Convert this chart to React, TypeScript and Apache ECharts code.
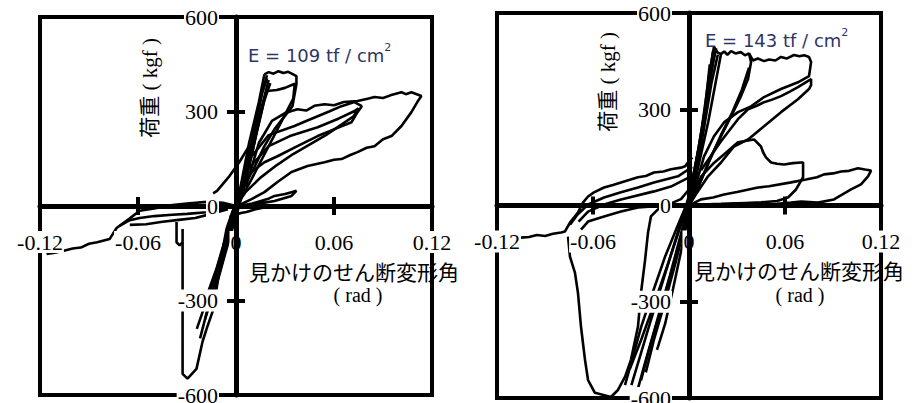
import React, { useEffect, useRef } from "react";
import * as echarts from "echarts";

// ---------- axis ticks / labels ----------
const xTicks = [-0.12, -0.06, 0, 0.06, 0.12];
const yTicks = [-600, -300, 0, 300, 600];
const xTitle = "見かけのせん断変形角";
const xUnit = "( rad )";
const yTitle = "荷重 ( kgf )";
const leftNote = "E = 109 tf / cm";
const rightNote = "E = 143 tf / cm";

// ---------- left specimen (E = 109) : [rad, kgf] ----------
const L_steep1 = [[-0.021, -330], [-0.012, -200], [-0.004, -60], [0.002, 40], [0.008, 200], [0.014, 330], [0.0174, 418]];
const L_steep2 = [[-0.018, -300], [-0.009, -160], [0, -10], [0.006, 100], [0.012, 250], [0.016, 360], [0.019, 405]];
const L_steep3 = [[-0.014, -290], [-0.006, -140], [0.003, 20], [0.01, 170], [0.015, 300], [0.02, 400]];
const L_steep4 = [[-0.024, -390], [-0.014, -240], [-0.005, -80], [0.004, 50], [0.011, 200], [0.017, 330], [0.021, 390]];
const L_steep5 = [[-0.019, -360], [-0.01, -210], [-0.002, -50], [0.006, 80], [0.013, 240], [0.018, 350]];
const L_steep6 = [[-0.022, -420], [-0.016, -300], [-0.009, -170], [-0.003, -40], [0.003, 60], [0.009, 190], [0.015, 340], [0.019, 415]];
const L_loopA = [[0.0174, 418], [0.02, 425], [0.023, 420], [0.026, 428], [0.029, 422], [0.032, 426], [0.035, 418], [0.037, 412], [0.037, 387], [0.0346, 317], [0.0236, 244], [0.0174, 190], [0.011, 120], [0.005, 63], [0, 0]];
const L_fan = [[0.019, 365], [0.025, 368], [0.03, 375], [0.036, 388], [0.035, 340], [0.03, 290], [0.024, 230], [0.016, 150], [0.008, 70], [0, 0]];
const L_loopB = [[0.006, 60], [0.014, 200], [0.022, 270], [0.03, 295], [0.0376, 307], [0.043, 303], [0.048, 318], [0.0542, 323], [0.06, 320], [0.066, 330], [0.0744, 333], [0.08, 340], [0.0848, 346], [0.09, 343], [0.095, 352], [0.1013, 361], [0.104, 355], [0.1074, 361], [0.1135, 349], [0.111, 330], [0.1074, 298], [0.1013, 254], [0.0952, 222], [0.09, 212], [0.0848, 190], [0.08, 185], [0.0744, 171], [0.07, 162], [0.0646, 149], [0.06, 147], [0.0542, 139], [0.0438, 127], [0.034, 108], [0.0254, 76], [0.0174, 44], [0.0095, 22], [0.0009, 0]];
const L_loopC = [[0.01, 160], [0.02, 225], [0.0358, 254], [0.043, 270], [0.05, 285], [0.057, 300], [0.0646, 317], [0.0725, 330], [0.077, 317], [0.0744, 298], [0.0707, 266], [0.0603, 244], [0.05, 222], [0.0376, 190], [0.0254, 158], [0.0174, 139], [0.0095, 108], [0.003, 50], [0, 0]];
const L_loopD = [[0.008, 120], [0.02, 190], [0.033, 222], [0.05, 250], [0.063, 278], [0.072, 300], [0.075, 310], [0.072, 285], [0.065, 260], [0.055, 225], [0.045, 195], [0.035, 165], [0.025, 130], [0.015, 90], [0.006, 45], [0, 0]];
const L_loopE = [[0.002, 0], [0.01, 8], [0.0193, 22], [0.0236, 32], [0.03, 38], [0.034, 44], [0.037, 48], [0.034, 32], [0.0236, 16], [0.012, 6], [0.005, 0]];
const L_axisTail = [[-0.004, -35], [0.003, -22], [0.0064, -19], [0.012, -10], [0.018, -4], [0.0248, 0], [0.03, 2]];
const L_upLeft = [[-0.014, 40], [-0.0116, 48], [-0.008, 70], [-0.004, 95], [0.002, 139], [0.008, 190]];
const L_bigNeg = [[-0.0327, -73], [-0.0327, -300], [-0.0327, -533], [-0.0297, -548], [-0.0242, -517], [-0.0205, -431], [-0.018, -390], [-0.0144, -336], [-0.0119, -263], [-0.0089, -158], [-0.0058, -73], [-0.002, -15], [0.002, 20]];
const L_hook = [[-0.0364, -51], [-0.0364, -115], [-0.0345, -125], [-0.0327, -115]];
const L_tail1 = [[-0.116, -152], [-0.111, -148], [-0.106, -143], [-0.1, -135], [-0.095, -132], [-0.09, -120], [-0.085, -115], [-0.0774, -105], [-0.0731, -70], [-0.0652, -40], [-0.059, -15], [-0.05, -8], [-0.0389, 3], [-0.03, 8], [-0.018, 13], [-0.008, 10], [0, 0]];
const L_tail2 = [[-0.0713, -63], [-0.065, -45], [-0.059, -38], [-0.05, -32], [-0.039, -28], [-0.03, -25], [-0.018, -20], [-0.01, -12], [0, 0]];
const L_tail3 = [[-0.065, -60], [-0.055, -58], [-0.045, -50], [-0.035, -44], [-0.025, -38], [-0.015, -25], [-0.005, -10]];

// ---------- right specimen (E = 143) ----------
const R_steep1 = [[-0.04, -560], [-0.035, -470], [-0.03, -380], [-0.024, -290], [-0.015, -160], [-0.006, -50], [0, 20], [0.006, 180], [0.011, 330], [0.015, 480]];
const R_steep2 = [[-0.033, -590], [-0.028, -500], [-0.02, -360], [-0.012, -220], [-0.004, -70], [0.002, 60], [0.008, 240], [0.013, 420], [0.0156, 494]];
const R_steep3 = [[-0.027, -520], [-0.022, -420], [-0.015, -300], [-0.008, -170], [0, -10], [0.005, 130], [0.01, 300], [0.013, 440]];
const R_steep4 = [[-0.02, -450], [-0.015, -370], [-0.01, -260], [-0.004, -120], [0.002, 30], [0.008, 200], [0.014, 380], [0.018, 470]];
const R_steep5 = [[-0.037, -510], [-0.03, -420], [-0.022, -310], [-0.013, -180], [-0.003, -30], [0.004, 80], [0.012, 260], [0.02, 472]];
const R_steep6 = [[-0.036, -560], [-0.03, -460], [-0.024, -360], [-0.016, -230], [-0.008, -100], [0, 30], [0.007, 200], [0.012, 350], [0.016, 480]];
const R_steep7 = [[-0.03, -545], [-0.025, -450], [-0.018, -330], [-0.01, -190], [-0.002, -40], [0.004, 100], [0.009, 260], [0.014, 420], [0.017, 490]];
const R_loopQ = [[0.0156, 494], [0.018, 476], [0.02, 472], [0.022, 480], [0.024, 470], [0.0263, 481], [0.029, 474], [0.0325, 478], [0.035, 468], [0.0375, 474], [0.0388, 447], [0.0369, 394], [0.0325, 341], [0.0263, 278], [0.02, 216], [0.0138, 153], [0.006, 60], [0, 0]];
const R_loopR = [[0.0375, 474], [0.04, 452], [0.043, 458], [0.0469, 450], [0.05, 455], [0.054, 452], [0.0575, 463], [0.061, 458], [0.0656, 469], [0.069, 465], [0.072, 468], [0.075, 463], [0.0763, 447], [0.075, 403], [0.0681, 384], [0.0575, 363], [0.0469, 338], [0.0388, 309], [0.0306, 291], [0.0219, 259], [0.0156, 216], [0.0094, 153], [0.004, 60], [0, 0]];
const R_loopS = [[0.0075, 110], [0.02, 200], [0.0306, 269], [0.0369, 300], [0.042, 310], [0.0469, 322], [0.052, 330], [0.0575, 341], [0.063, 355], [0.0681, 369], [0.0763, 394], [0.0763, 375], [0.075, 363], [0.0681, 331], [0.0575, 291], [0.0469, 247], [0.0369, 206], [0.0281, 184], [0.02, 134], [0.0119, 91], [0.005, 40], [0, 0]];
const R_fan = [[0.0375, 430], [0.033, 360], [0.027, 290], [0.02, 220], [0.012, 130], [0.005, 50], [0, 0]];
const R_loopT = [[0, 0], [0.0075, 90], [0.015, 130], [0.022, 160], [0.0306, 197], [0.0406, 206], [0.045, 184], [0.0463, 166], [0.0481, 150], [0.0513, 134], [0.055, 130], [0.0594, 128], [0.065, 132], [0.07, 134], [0.0713, 134], [0.0713, 88], [0.0669, 50], [0.0619, 25], [0.055, 14], [0.045, 10], [0.035, 8], [0.02, 5], [0.008, 3], [0, 0]];
const R_loopU = [[0, 0], [0.0075, 19], [0.015, 25], [0.0219, 34], [0.03, 42], [0.0431, 56], [0.05, 60], [0.0638, 72], [0.0731, 81], [0.08, 88], [0.0844, 97], [0.09, 100], [0.095, 106], [0.1, 108], [0.1056, 116], [0.11, 112], [0.1138, 109], [0.1119, 91], [0.1075, 66], [0.1013, 50], [0.0906, 19], [0.0806, 9], [0.07, 12], [0.0638, 9], [0.055, 5], [0.0431, 3], [0.03, 6], [0.0219, 3], [0.0075, 0]];
const R_tail = [[-0.105, -100], [-0.1, -98], [-0.095, -92], [-0.09, -95], [-0.085, -88], [-0.08, -84], [-0.0775, -81], [-0.0744, -53], [-0.0694, -22], [-0.0663, 9], [-0.0631, 28], [-0.0594, 41], [-0.0531, 56], [-0.0475, 64], [-0.0425, 72], [-0.037, 80], [-0.0319, 88], [-0.027, 92], [-0.0219, 103], [-0.016, 106], [-0.0113, 113], [-0.005, 118], [-0.0025, 122], [0.002, 150]];
const R_bigNeg = [[-0.0756, -97], [-0.0744, -159], [-0.0713, -209], [-0.0694, -272], [-0.0675, -378], [-0.065, -481], [-0.0631, -544], [-0.0588, -584], [-0.0488, -597], [-0.0444, -575], [-0.04, -534], [-0.0363, -481], [-0.0319, -378], [-0.03, -272], [-0.0275, -172], [-0.0256, -84], [-0.0238, -34], [-0.0194, -12], [-0.012, 5], [-0.005, 20], [0, 50]];
const R_line2 = [[0.002, 120], [-0.0069, 91], [-0.0219, 72], [-0.0319, 56], [-0.0425, 41], [-0.0531, 25], [-0.0631, 3], [-0.07, -30], [-0.0744, -60]];
const R_line3 = [[0.001, 90], [-0.0113, 59], [-0.0219, 44], [-0.0425, 19], [-0.0531, 3], [-0.0631, -19], [-0.069, -50]];
const R_line4 = [[-0.005, 3], [-0.0319, -6], [-0.0425, -19], [-0.0531, -34], [-0.0631, -50], [-0.0675, -75]];

const leftCurves = [L_steep1, L_steep2, L_steep3, L_steep4, L_steep5, L_steep6, L_loopA, L_fan, L_loopB, L_loopC, L_loopD, L_loopE, L_axisTail, L_upLeft, L_bigNeg, L_hook, L_tail1, L_tail2, L_tail3];
const rightCurves = [R_steep1, R_steep2, R_steep3, R_steep4, R_steep5, R_steep6, R_steep7, R_loopQ, R_loopR, R_loopS, R_fan, R_loopT, R_loopU, R_tail, R_bigNeg, R_line2, R_line3, R_line4];

const SERIF = "Liberation Serif, Noto Sans CJK JP, serif";
const SANS = "DejaVu Sans";

function fmtX(v: number) {
  return String(Number(v.toFixed(2)));
}

// axes are placed through the middle of each grid (the value 0) with a negative offset;
// the second axis of each pair only adds the opposite half of the crossing tick marks
function buildAxes(gridIndex: number, halfW: number, halfH: number) {
  const lineStyle = { color: "#000", width: 5 };
  const tickStyle = { color: "#000", width: 4 };
  const xBase = {
    gridIndex, type: "value", min: xTicks[0], max: xTicks[xTicks.length - 1], interval: xTicks[1] - xTicks[0],
    offset: -halfH, z: 3,
    axisTick: { show: true, length: 9, lineStyle: tickStyle },
    splitLine: { show: false },
  };
  const yBase = {
    gridIndex, type: "value", min: yTicks[0], max: yTicks[yTicks.length - 1], interval: yTicks[1] - yTicks[0],
    offset: -halfW, z: 4,
    axisTick: { show: true, length: 9, lineStyle: tickStyle },
    splitLine: { show: false },
  };
  const xs = [
    {
      ...xBase, position: "bottom",
      axisLine: { show: true, onZero: false, lineStyle },
      axisLabel: {
        formatter: fmtX, fontFamily: SERIF, fontSize: 22, color: "#000", margin: 25,
        backgroundColor: "#fff", padding: [0, 1], showMinLabel: true, showMaxLabel: true, hideOverlap: false,
      },
    },
    { ...xBase, position: "top", axisLine: { show: false, onZero: false }, axisLabel: { show: false } },
  ];
  const ys = [
    {
      ...yBase, position: "left",
      axisLine: { show: true, onZero: false, lineStyle },
      axisLabel: {
        fontFamily: SERIF, fontSize: 22, color: "#000", margin: 17,
        backgroundColor: "#fff", padding: [0, 1], showMinLabel: true, showMaxLabel: true, hideOverlap: false,
      },
    },
    { ...yBase, position: "right", axisLine: { show: false, onZero: false }, axisLabel: { show: false } },
  ];
  return { xs, ys };
}

function curveSeries(curves: number[][][], axisIndex: number) {
  return curves.map((d) => ({
    type: "line",
    xAxisIndex: axisIndex,
    yAxisIndex: axisIndex,
    data: d,
    showSymbol: false,
    symbol: "none",
    lineStyle: { color: "#000", width: 2.6 },
    z: 2,
    silent: true,
  }));
}

function panelTexts(o: { titleX: number; titleY: number; unitX: number; unitY: number; yTitleX: number; yTitleY: number; noteX: number; noteY: number; note: string }) {
  return [
    { type: "text", x: o.titleX, y: o.titleY, z: 10, style: { text: xTitle, fontFamily: SERIF, fontSize: 21, fill: "#000", align: "left", verticalAlign: "middle" } },
    { type: "text", x: o.unitX, y: o.unitY, z: 10, style: { text: xUnit, fontFamily: SERIF, fontSize: 20, fill: "#000", align: "center", verticalAlign: "middle" } },
    { type: "text", x: o.yTitleX, y: o.yTitleY, rotation: Math.PI / 2, z: 10, style: { text: yTitle, fontFamily: SERIF, fontSize: 21, fill: "#000", align: "center", verticalAlign: "middle" } },
    {
      type: "text", x: o.noteX, y: o.noteY, z: 10,
      style: {
        text: "{a|" + o.note + "}{b|2}", align: "left", verticalAlign: "middle",
        rich: {
          a: { fontFamily: SANS, fontSize: 18, fill: "#2e3566", color: "#2e3566", verticalAlign: "bottom", lineHeight: 22 },
          b: { fontFamily: SANS, fontSize: 11, fill: "#2e3566", color: "#2e3566", verticalAlign: "top", lineHeight: 22 },
        },
      },
    },
  ];
}

export default function App() {
  const ref = useRef<HTMLDivElement>(null);
  useEffect(() => {
    if (!ref.current) return;
    const chart = echarts.init(ref.current, undefined, { renderer: "svg" });
    const a = buildAxes(0, 196, 189);
    const b = buildAxes(1, 192, 192.5);
    const option: any = {
      animation: false,
      backgroundColor: "#fff",
      grid: [
        { left: 40, top: 17, width: 392, height: 378, show: true, borderColor: "#000", borderWidth: 4, backgroundColor: "transparent", containLabel: false, outerBoundsMode: "none" },
        { left: 497, top: 13, width: 384, height: 385, show: true, borderColor: "#000", borderWidth: 4, backgroundColor: "transparent", containLabel: false, outerBoundsMode: "none" },
      ],
      xAxis: [...a.xs, ...b.xs],
      yAxis: [...a.ys, ...b.ys],
      series: [...curveSeries(leftCurves, 0), ...curveSeries(rightCurves, 2)],
      graphic: [
        ...panelTexts({ titleX: 249, titleY: 273, unitX: 358, unitY: 295, yTitleX: 150, yTitleY: 88, noteX: 248, noteY: 53, note: leftNote }),
        ...panelTexts({ titleX: 694, titleY: 272, unitX: 800, unitY: 295, yTitleX: 608, yTitleY: 82, noteX: 705, noteY: 38, note: rightNote }),
      ],
    };
    chart.setOption(option);
    return () => chart.dispose();
  }, []);
  return <div ref={ref} style={{ position: "fixed", left: 0, top: 0, width: 917, height: 403 }} />;
}
